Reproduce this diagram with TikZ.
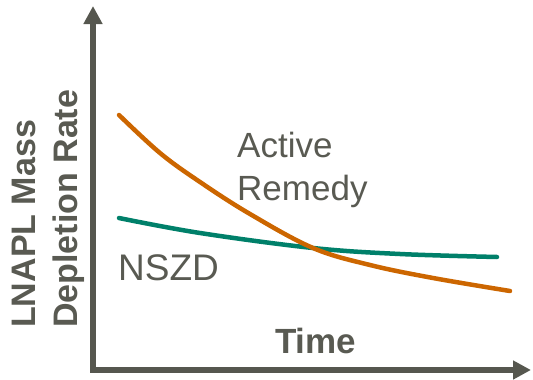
\documentclass[tikz,border=0pt]{standalone}
\usepackage{fontspec}
\setmainfont{Liberation Sans}
\usetikzlibrary{arrows.meta}
\definecolor{axisgray}{HTML}{56574F}
\definecolor{txtgray}{HTML}{595A52}
\definecolor{remorange}{HTML}{CC6600}
\definecolor{nszdgreen}{HTML}{00806A}
\tikzset{
  axis/.style={draw=axisgray, line width=6pt, line join=miter,
    {Triangle[length=18pt,width=18pt]}-{Triangle[length=18pt,width=18pt]}},
  lbl/.style={text=txtgray, inner sep=0pt, anchor=base west},
  ylbl/.style={lbl, rotate=90, font=\bfseries\fontsize{34}{40}\selectfont},
  curve/.style={line width=4.5pt, line cap=round}
}
\begin{document}
\begin{tikzpicture}[x=1pt,y=-1pt]
\useasboundingbox (0,0) rectangle (533,380);
\coordinate (ytip) at (93,6);
\coordinate (corner) at (93,370);
\coordinate (xtip) at (531,370);
\draw[axis] (ytip) -- (corner) -- (xtip);
% curves
\draw[curve, draw=nszdgreen] plot[smooth, tension=0.6] coordinates {(119,218) (200,233) (313,248) (400,254) (497,257)};
\draw[curve, draw=remorange] plot[smooth, tension=0.6] coordinates {(119,115) (160,153) (200,182) (250,214) (313,248) (370,265) (433,278) (510,291)};
% labels
\node[lbl, font=\fontsize{35}{42}\selectfont] (act) at (237,157) {Active};
\node[lbl, font=\fontsize{35}{42}\selectfont] (rem) at (237,200) {Remedy};
\node[lbl, font=\fontsize{37}{44}\selectfont] (nszd) at (118,280) {NSZD};
\node[lbl, font=\bfseries\fontsize{35}{42}\selectfont] (time) at (275,353) {Time};
\node[ylbl] (yl1) at (35,328) {LNAPL Mass};
\node[ylbl] (yl2) at (77,328) {Depletion Rate};
\end{tikzpicture}
\end{document}
